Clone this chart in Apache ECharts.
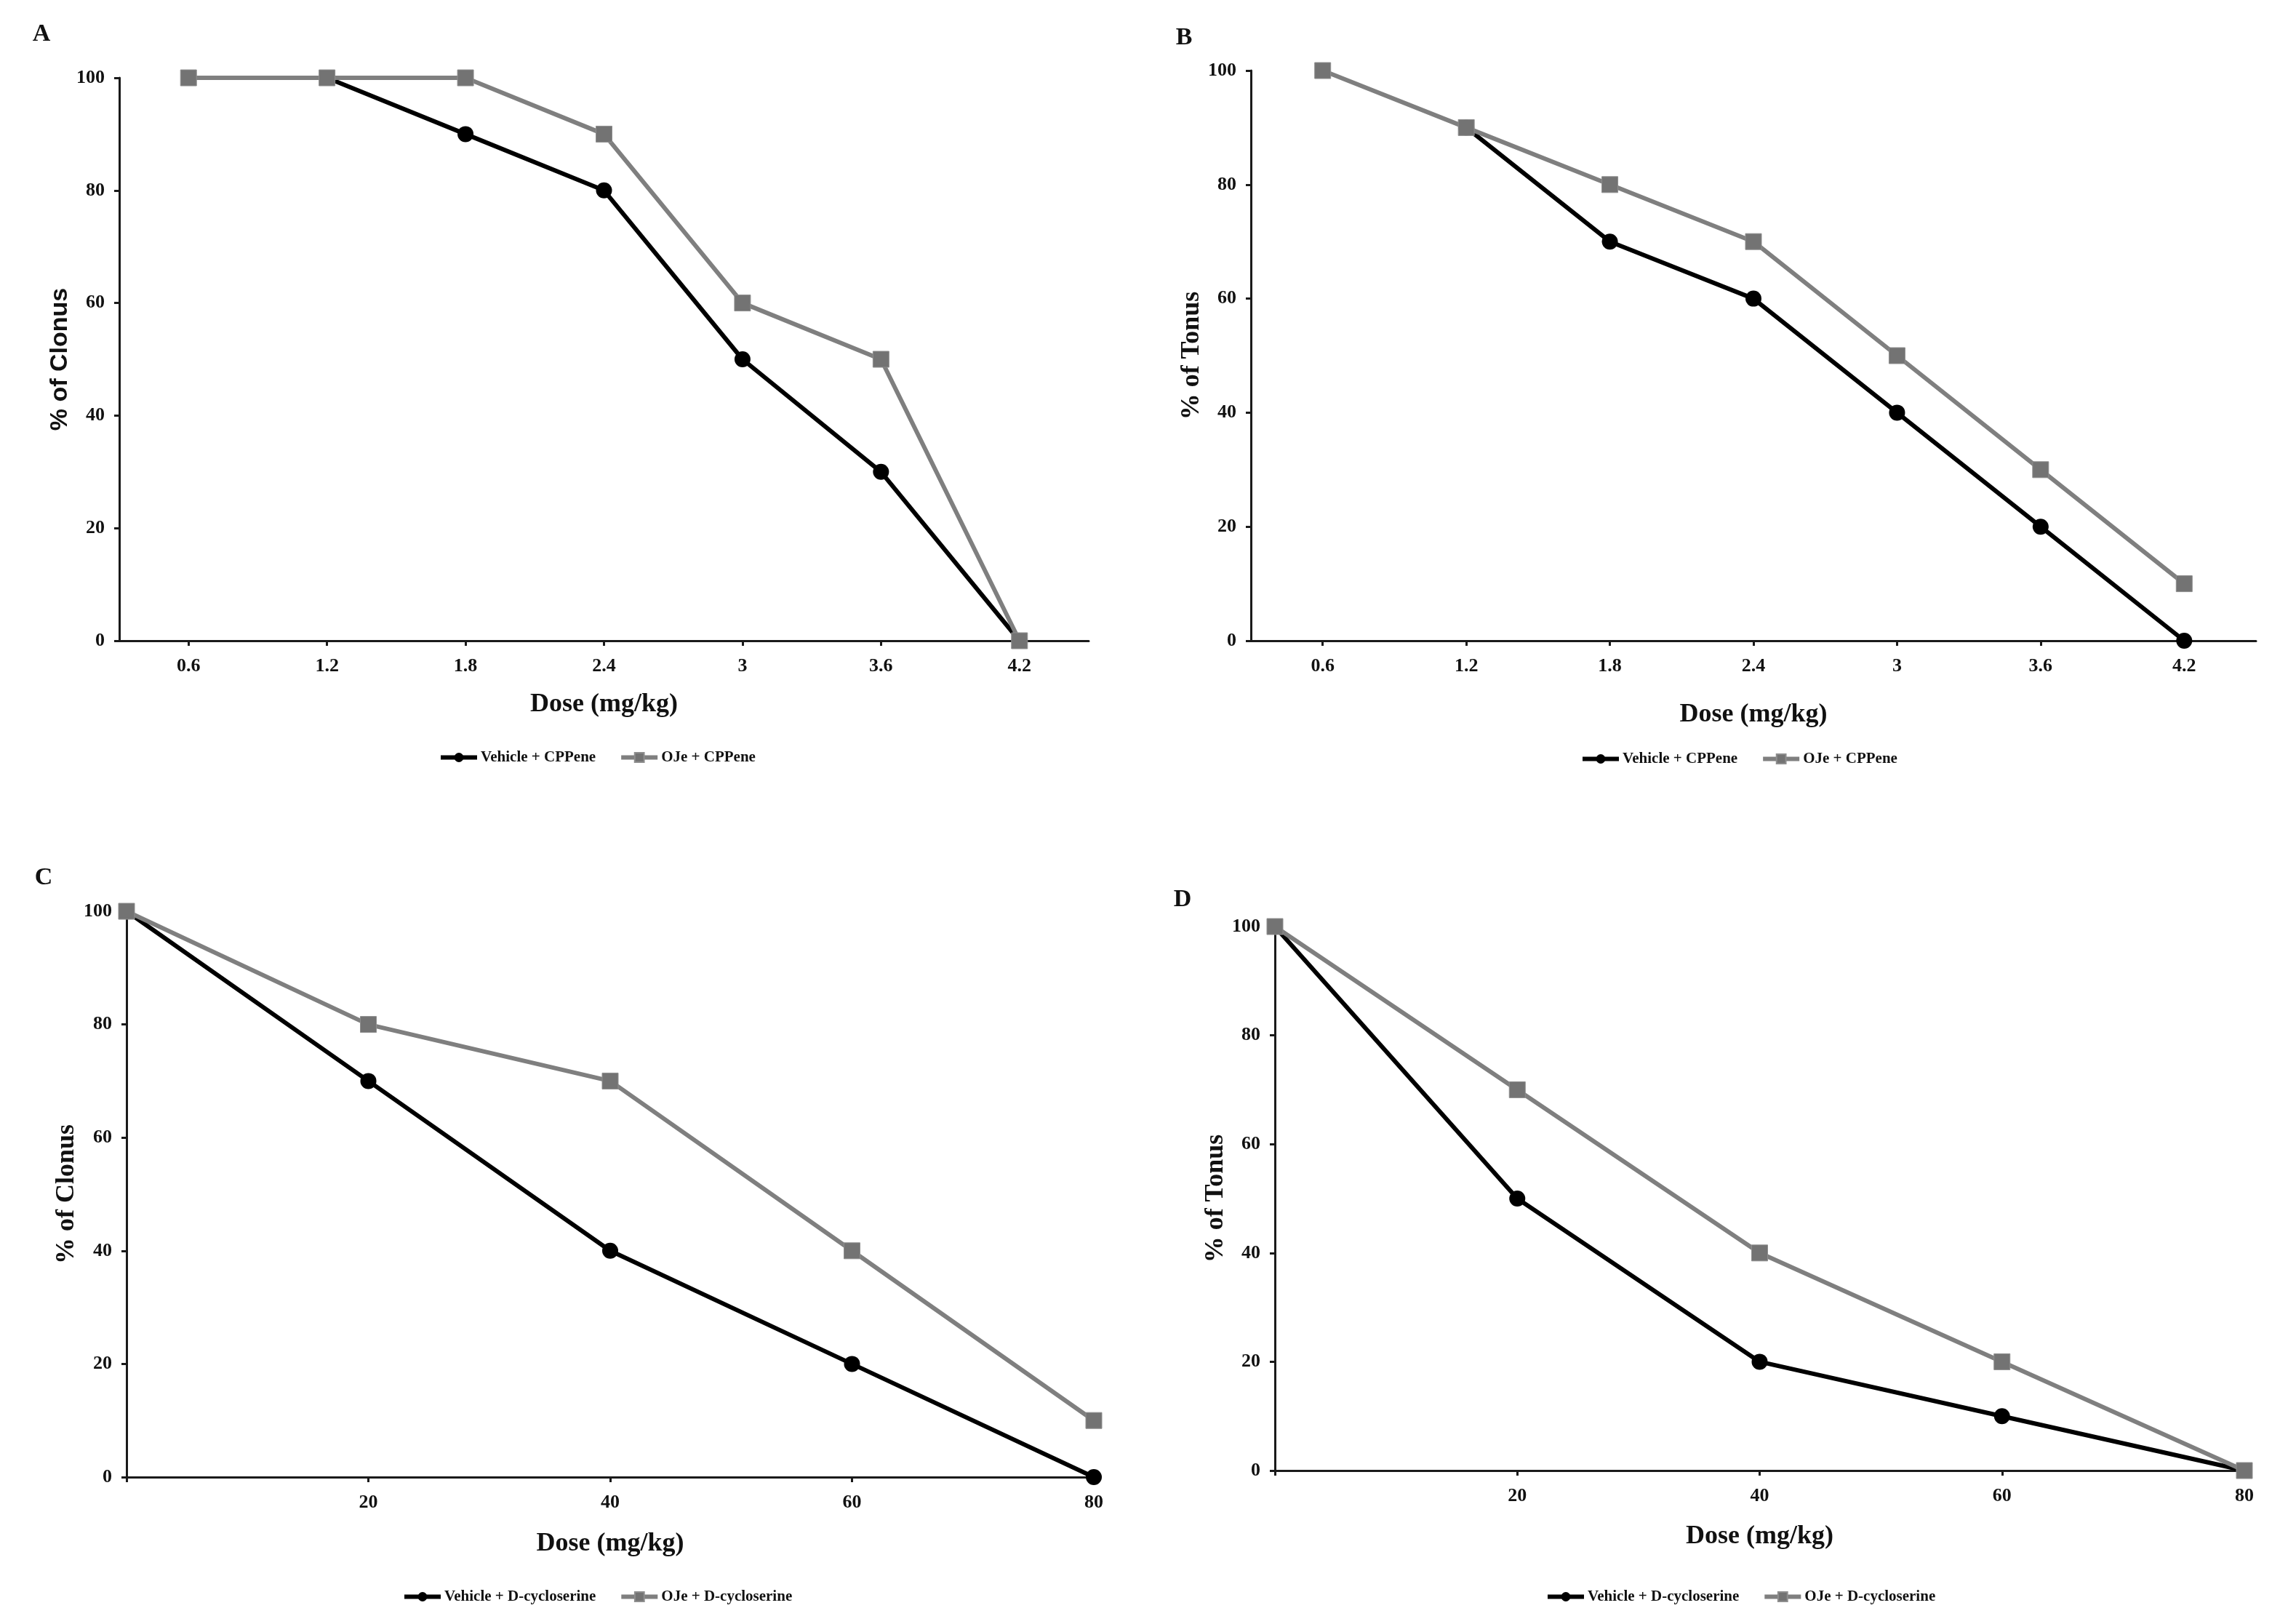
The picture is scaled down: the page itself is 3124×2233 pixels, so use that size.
<!DOCTYPE html>
<html>
<head>
<meta charset="utf-8">
<script src="https://cdn.jsdelivr.net/npm/echarts@6/dist/echarts.min.js"></script>
<style>
html,body{margin:0;padding:0;background:#fff;}
#chart{width:3124px;height:2233px;}
</style>
</head>
<body>
<div id="chart"></div>
<script>
// ---- data ----
const dosesAB = ['0.6', '1.2', '1.8', '2.4', '3', '3.6', '4.2'];
const vehicleA = [null, 100, 90, 80, 50, 30, 0];
const ojeA = [100, 100, 100, 90, 60, 50, 0];
const vehicleB = [null, 90, 70, 60, 40, 20, 0];
const ojeB = [100, 90, 80, 70, 50, 30, 10];

const dosesCD = [0, 20, 40, 60, 80];
const vehicleC = [100, 70, 40, 20, 0];
const ojeC = [100, 80, 70, 40, 10];
const vehicleD = [100, 50, 20, 10, 0];
const ojeD = [100, 70, 40, 20, 0];

const namesAB = ['Vehicle + CPPene', 'OJe + CPPene'];
const namesCD = ['Vehicle + D-cycloserine', 'OJe + D-cycloserine'];
const panelLetters = ['A', 'B', 'C', 'D'];
const yTitles = ['% of Clonus', '% of Tonus', '% of Clonus', '% of Tonus'];
const xTitle = 'Dose (mg/kg)';

// ---- styles ----
const SERIF = '"Liberation Serif", "Times New Roman", serif';
const SANS = '"Liberation Sans", Arial, sans-serif';
const INK = '#111';
const BLACK = '#000';
const GRAY = '#7f7f7f';

const grids = [
  {left: 164, top: 107, width: 1333, height: 774},
  {left: 1720, top: 97, width: 1382, height: 784},
  {left: 174, top: 1253, width: 1330, height: 778},
  {left: 1753, top: 1274, width: 1333, height: 748}
];
const xNameGaps = [70, 84, 74, 73];
const yNameGaps = [64, 54, 64, 62];

const axisLine = {show: true, lineStyle: {color: '#1a1a1a', width: 3}};
const axisTick = {show: true, inside: false, length: 7, lineStyle: {color: '#1a1a1a', width: 3}};
const tickLabel = {color: INK, fontFamily: SERIF, fontWeight: 'bold', fontSize: 26};

function pairs(xs, ys) { return xs.map((x, i) => [x, ys[i]]); }

const xAxes = [], yAxes = [], series = [];
for (let i = 0; i < 4; i++) {
  const isCat = i < 2;
  if (isCat) {
    xAxes.push({
      type: 'category', gridIndex: i, data: dosesAB, boundaryGap: true,
      axisLine, axisTick: Object.assign({alignWithLabel: true}, axisTick),
      axisLabel: Object.assign({margin: 22}, tickLabel),
      splitLine: {show: false},
      name: xTitle, nameLocation: 'middle', nameGap: xNameGaps[i],
      nameTextStyle: {color: INK, fontFamily: SERIF, fontWeight: 'bold', fontSize: 36}
    });
  } else {
    xAxes.push({
      type: 'value', gridIndex: i, min: 0, max: 80, interval: 20,
      axisLine, axisTick,
      axisLabel: Object.assign({margin: 22, formatter: v => (v === 0 ? '' : String(v))}, tickLabel),
      splitLine: {show: false},
      name: xTitle, nameLocation: 'middle', nameGap: xNameGaps[i],
      nameTextStyle: {color: INK, fontFamily: SERIF, fontWeight: 'bold', fontSize: 36}
    });
  }
  yAxes.push({
    type: 'value', gridIndex: i, min: 0, max: 100, interval: 20,
    axisLine, axisTick,
    axisLabel: Object.assign({margin: 20}, tickLabel),
    splitLine: {show: false},
    name: yTitles[i], nameLocation: 'middle', nameGap: yNameGaps[i],
    nameTextStyle: {color: INK, fontFamily: i === 0 ? SANS : SERIF, fontWeight: 'bold', fontSize: i === 0 ? 34 : 36}
  });
}

function mkSeries(name, idx, data, isGray) {
  return {
    name, type: 'line', xAxisIndex: idx, yAxisIndex: idx, data,
    symbol: isGray ? 'rect' : 'circle', symbolSize: 22,
    showAllSymbol: true, clip: false, connectNulls: false,
    z: isGray ? 4 : 3,
    lineStyle: {color: isGray ? GRAY : BLACK, width: 6},
    itemStyle: isGray ? {color: '#737373', borderColor: '#8e8e8e', borderWidth: 1} : {color: BLACK, borderColor: BLACK, borderWidth: 0},
    emphasis: {disabled: true},
    animation: false
  };
}

series.push(mkSeries(namesAB[0], 0, vehicleA, false));
series.push(mkSeries(namesAB[1], 0, ojeA, true));
series.push(mkSeries(namesAB[0], 1, vehicleB, false));
series.push(mkSeries(namesAB[1], 1, ojeB, true));
series.push(mkSeries(namesCD[0], 2, pairs(dosesCD, vehicleC), false));
series.push(mkSeries(namesCD[1], 2, pairs(dosesCD, ojeC), true));
series.push(mkSeries(namesCD[0], 3, pairs(dosesCD, vehicleD), false));
series.push(mkSeries(namesCD[1], 3, pairs(dosesCD, ojeD), true));

const legendBase = {
  orient: 'horizontal', itemWidth: 50, itemHeight: 16, itemGap: 32,
  lineStyle: {width: 6},
  textStyle: {color: INK, fontFamily: SERIF, fontWeight: 'bold', fontSize: 21},
  selectedMode: false
};
const legends = [
  Object.assign({left: 598, top: 1026, data: namesAB}, legendBase),
  Object.assign({left: 2168, top: 1028, data: namesAB}, legendBase),
  Object.assign({left: 548, top: 2180, data: namesCD}, legendBase),
  Object.assign({left: 2120, top: 2180, data: namesCD}, legendBase)
];

const letterPos = [[57, 47], [1628, 52], [60, 1207], [1626, 1237]];
const graphics = panelLetters.map((t, i) => ({
  type: 'text', x: letterPos[i][0], y: letterPos[i][1],
  style: {text: t, fill: INK, font: 'bold 34px ' + SERIF, textAlign: 'center', textVerticalAlign: 'middle'}
}));

const chart = echarts.init(document.getElementById('chart'), null, {renderer: 'canvas'});
chart.setOption({
  backgroundColor: '#fff',
  animation: false,
  grid: grids,
  xAxis: xAxes,
  yAxis: yAxes,
  series,
  legend: legends,
  graphic: graphics
});
</script>
</body>
</html>
